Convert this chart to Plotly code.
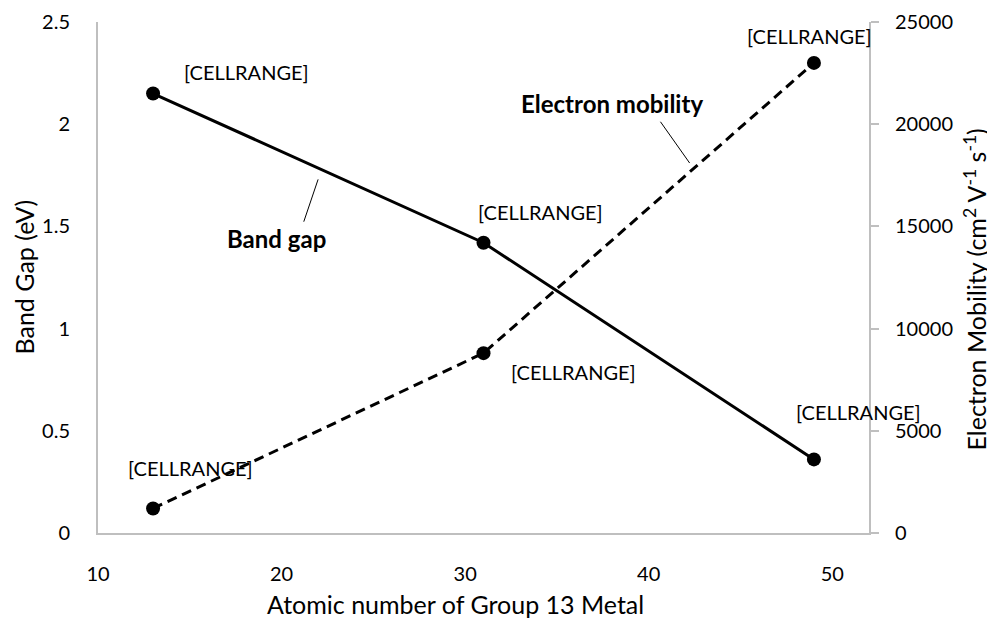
import plotly.graph_objects as go

atomic_number = [13, 31, 49]
band_gap = [2.15, 1.42, 0.36]
mobility = [1200, 8800, 23000]
x_ticks = [10, 20, 30, 40, 50]
point_label = "[CELLRANGE]"

FONT = "Lato"
FS = 20
TFS = 25
AXC = "#BFBFBF"

fig = go.Figure()
fig.add_trace(go.Scatter(
    x=atomic_number, y=band_gap, mode="lines+markers", name="Band gap",
    line=dict(color="black", width=3),
    marker=dict(color="black", size=14),
))
fig.add_trace(go.Scatter(
    x=atomic_number, y=mobility, mode="lines+markers", name="Electron mobility",
    yaxis="y2",
    line=dict(color="black", width=3, dash="10px,6px"),
    marker=dict(color="black", size=14),
))

annotations = []
bg_offsets = [(93, 22), (57, 31), (45, 47)]
mob_offsets = [(37, 40), (90, -19), (-4, 27)]
for xv, yv, (dx, dy) in zip(atomic_number, band_gap, bg_offsets):
    annotations.append(dict(x=xv, y=yv, xref="x", yref="y", text=point_label,
                            showarrow=False, xshift=dx, yshift=dy,
                            xanchor="center", yanchor="middle",
                            font=dict(family=FONT, size=FS, color="#000")))
for xv, yv, (dx, dy) in zip(atomic_number, mobility, mob_offsets):
    annotations.append(dict(x=xv, y=yv, xref="x", yref="y2", text=point_label,
                            showarrow=False, xshift=dx, yshift=dy,
                            xanchor="center", yanchor="middle",
                            font=dict(family=FONT, size=FS, color="#000")))

# series name callouts
annotations.append(dict(x=19.72, y=1.442, xref="x", yref="y", text="<b>Band gap</b>",
                        showarrow=False, xanchor="center", yanchor="middle",
                        font=dict(family=FONT, size=24, color="#000")))
annotations.append(dict(x=38.01, y=2.102, xref="x", yref="y", text="<b>Electron mobility</b>",
                        showarrow=False, xanchor="center", yanchor="middle",
                        font=dict(family=FONT, size=24, color="#000")))

# axis titles
annotations.append(dict(x=0.5, y=0, xref="paper", yref="paper", yshift=-71,
                        xshift=-28, xanchor="center", yanchor="middle",
                        text="Atomic number of Group 13 Metal", showarrow=False,
                        font=dict(family=FONT, size=TFS, color="#000")))
annotations.append(dict(x=0, y=0.5, xref="paper", yref="paper", xshift=-75,
                        xanchor="center", yanchor="middle",
                        textangle=-90, text="Band Gap (eV)", showarrow=False,
                        font=dict(family=FONT, size=TFS, color="#000")))
annotations.append(dict(x=1, y=0.5, xref="paper", yref="paper", xshift=106, yshift=-12,
                        xanchor="center", yanchor="middle",
                        textangle=-90,
                        text="Electron Mobility (cm<sup>2</sup> V<sup>-1</sup> s<sup>-1</sup>)",
                        showarrow=False,
                        font=dict(family=FONT, size=TFS, color="#000")))

shapes = [
    dict(type="line", xref="x", yref="y", x0=21.99, y0=1.730, x1=21.21, y1=1.523,
         line=dict(color="black", width=1)),
    dict(type="line", xref="x", yref="y", x0=40.64, y0=2.012, x1=42.23, y1=1.810,
         line=dict(color="black", width=1)),
]

fig.update_layout(
    width=987, height=611,
    margin=dict(l=90, r=126, t=14, b=86, autoexpand=False),
    paper_bgcolor="white", plot_bgcolor="white",
    showlegend=False,
    font=dict(family=FONT, size=FS, color="#000"),
    annotations=annotations,
    shapes=shapes,
    xaxis=dict(range=[10, 52], tickvals=x_ticks, showgrid=False, zeroline=False,
               showline=True, linecolor=AXC, linewidth=2, ticks="", automargin=False,
               ticklabelstandoff=22, tickfont=dict(family=FONT, size=FS, color="#000")),
    yaxis=dict(range=[0, 2.5], dtick=0.5, showgrid=False, zeroline=False,
               showline=True, linecolor=AXC, linewidth=2, ticks="", automargin=False,
               ticklabelstandoff=22, tickfont=dict(family=FONT, size=FS, color="#000")),
    yaxis2=dict(range=[0, 25000], dtick=5000, overlaying="y", side="right",
                tickformat="d", automargin=False,
                showgrid=False, zeroline=False, showline=True, linecolor=AXC,
                linewidth=2, ticks="outside", ticklen=8, tickcolor=AXC, tickwidth=2,
                ticklabelstandoff=12, tickfont=dict(family=FONT, size=FS, color="#000")),
)

fig.write_html("out.html")
